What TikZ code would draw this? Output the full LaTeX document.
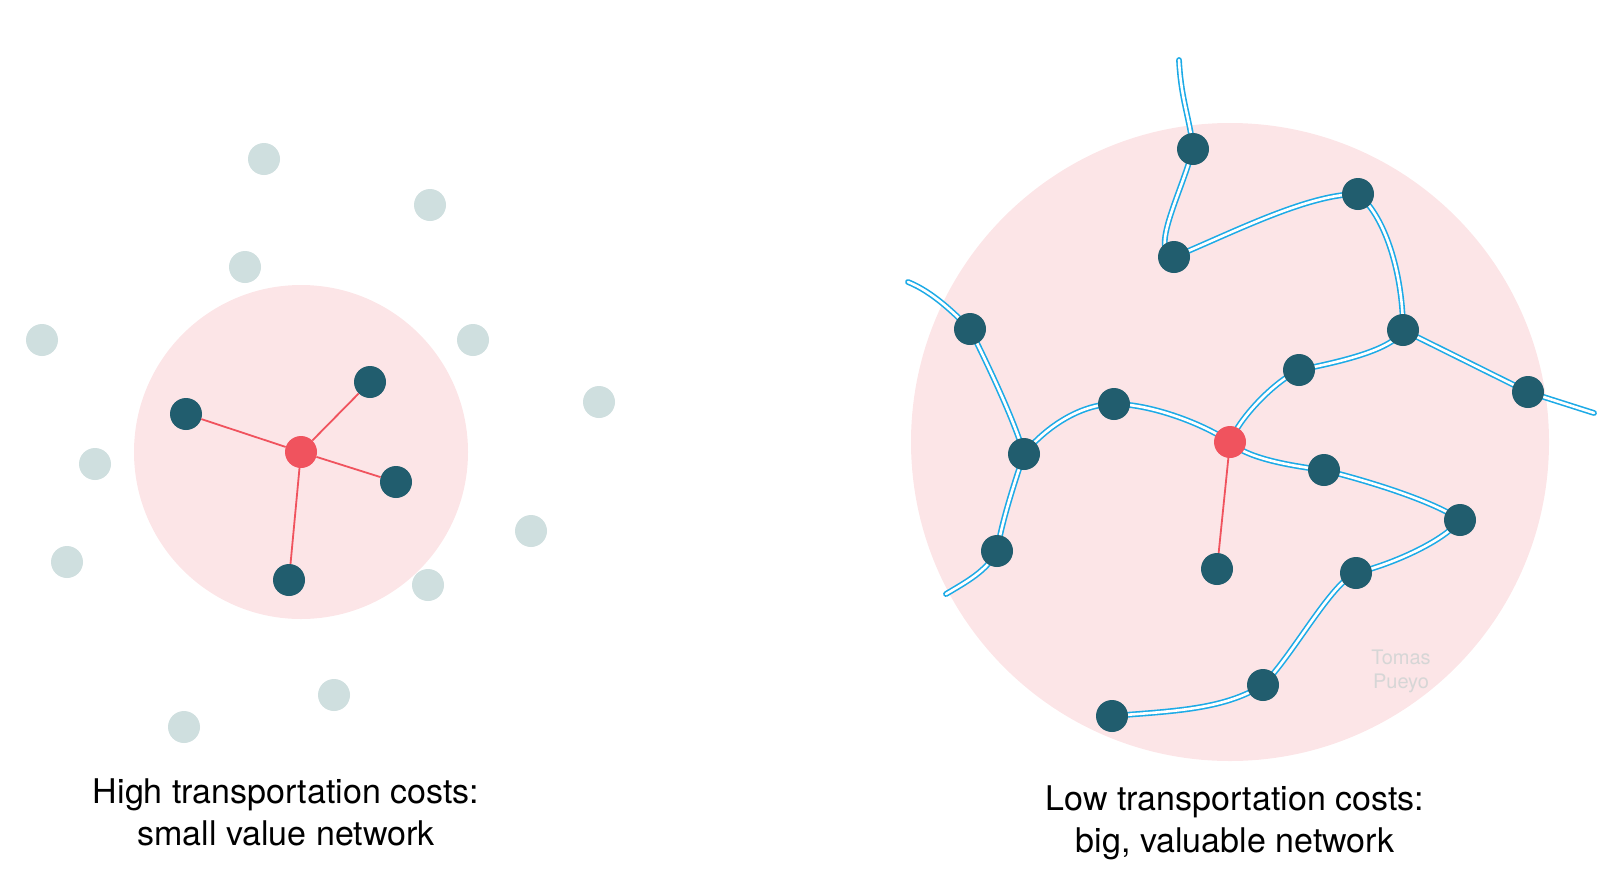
\documentclass[tikz,border=0pt]{standalone}
\usepackage{fontspec}
\setmainfont{TeX Gyre Heros}
\usetikzlibrary{backgrounds}
\definecolor{townc}{RGB}{33,93,110}
\definecolor{hubc}{RGB}{240,83,94}
\definecolor{farc}{RGB}{207,223,223}
\definecolor{pinkc}{RGB}{252,229,231}
\definecolor{roadc}{RGB}{28,170,230}
\definecolor{markc}{RGB}{214,214,214}
\tikzset{
  town/.style={circle, fill=townc, minimum size=32pt, inner sep=0pt},
  hub/.style={circle, fill=hubc, minimum size=32pt, inner sep=0pt},
  far/.style={circle, fill=farc, minimum size=32pt, inner sep=0pt},
  road/.style={draw=roadc, double=white, line width=1.6pt, double distance=2.6pt, line cap=round},
  spoke/.style={draw=hubc, line width=1.8pt},
  caption/.style={align=center, font=\fontsize{34}{42}\selectfont},
}

\begin{document}
\begin{tikzpicture}[x=1pt, y=-1pt]
  \useasboundingbox (0,0) rectangle (1600,884);
  \begin{scope}[on background layer]
    \fill[pinkc] (301,452) circle (167pt);
    \fill[pinkc] (1230,442) circle (319pt);
  \end{scope}

  \foreach \p [count=\i] in {(264,159),(430,205),(245,267),(42,340),(473,340),(599,402),
      (95,464),(531,531),(67,562),(428,585),(334,695),(184,727)}
    \node[far] (f\i) at \p {};
  \node[hub] (h1) at (301,452) {};
  \node[town] (a1) at (370,382) {};
  \node[town] (a2) at (186,414) {};
  \node[town] (a3) at (396,482) {};
  \node[town] (a4) at (289,580) {};
  \draw[spoke] (h1) -- (a1); \draw[spoke] (h1) -- (a2);
  \draw[spoke] (h1) -- (a3); \draw[spoke] (h1) -- (a4);
  \node[caption] (c1) at (286,812) {High transportation costs:\\small value network};

  \node[hub] (h2) at (1230,442) {};
  \node[town] (ta) at (1193,149) {};
  \node[town] (tb) at (1174,257) {};
  \node[town] (tc) at (1358,194) {};
  \node[town] (td) at (1403,330) {};
  \node[town] (te) at (1528,392) {};
  \node[town] (tf) at (1299,370) {};
  \node[town] (tg) at (1114,404) {};
  \node[town] (th) at (970,329) {};
  \node[town] (ti) at (1024,454) {};
  \node[town] (tj) at (997,551) {};
  \node[town] (tk) at (1324,470) {};
  \node[town] (tl) at (1460,520) {};
  \node[town] (tm) at (1356,573) {};
  \node[town] (tn) at (1263,685) {};
  \node[town] (to) at (1112,716) {};
  \node[town] (tp) at (1217,569) {};
  \coordinate (e1) at (1179,60);
  \coordinate (e2) at (1594,413);
  \coordinate (e3) at (908,282);
  \coordinate (e4) at (946,594);
  \draw[spoke] (h2) -- (tp);

  \begin{scope}[on background layer]
    \draw[road] (e1) .. controls +(2,40) and +(-3,-30) .. (ta.center);
    \draw[road] (ta.center) .. controls +(-12,45) and +(-25,-5) .. (tb.center);
    \draw[road] (tb.center) .. controls +(60,-25) and +(-50,0) .. (tc.center);
    \draw[road] (tc.center) .. controls +(30,25) and +(0,-50) .. (td.center);
    \draw[road] (td.center) -- (te.center) -- (e2);
    \draw[road] (td.center) .. controls +(-10,20) and +(40,-8) .. (tf.center);
    \draw[road] (tf.center) .. controls +(-25,12) and +(10,-25) .. (h2.center);
    \draw[road] (h2.center) .. controls +(-30,-20) and +(35,0) .. (tg.center);
    \draw[road] (tg.center) .. controls +(-35,0) and +(20,-25) .. (ti.center);
    \draw[road] (e3) .. controls +(25,10) and +(-15,-15) .. (th.center);
    \draw[road] (th.center) .. controls +(15,30) and +(-10,-35) .. (ti.center);
    \draw[road] (ti.center) .. controls +(-10,30) and +(5,-30) .. (tj.center);
    \draw[road] (tj.center) .. controls +(-10,20) and +(20,-12) .. (e4);
    \draw[road] (h2.center) .. controls +(15,15) and +(-40,-5) .. (tk.center);
    \draw[road] (tk.center) .. controls +(60,15) and +(-20,-15) .. (tl.center);
    \draw[road] (tl.center) .. controls +(-15,20) and +(40,-10) .. (tm.center);
    \draw[road] (tm.center) .. controls +(-25,10) and +(30,-30) .. (tn.center);
    \draw[road] (tn.center) .. controls +(-40,25) and +(60,-5) .. (to.center);
  \end{scope}

  \node[text=markc, align=center, font=\fontsize{20}{24}\selectfont] (wm) at (1401,671) {Tomas\\Pueyo};
  \node[caption] (c2) at (1235,823) {Low transportation costs:\\big, valuable network};
\end{tikzpicture}
\end{document}
